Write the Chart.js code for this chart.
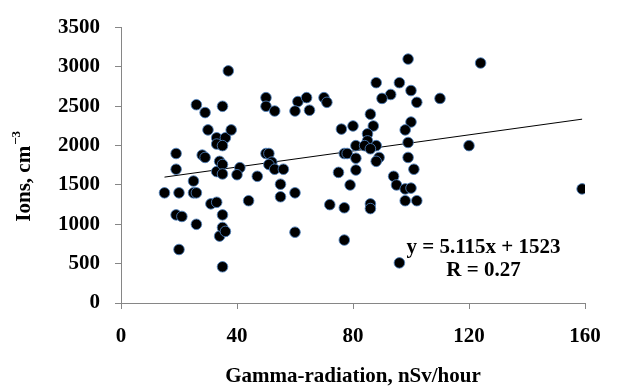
<!DOCTYPE html>
<html>
<head>
<meta charset="utf-8">
<script src="https://cdn.jsdelivr.net/npm/chart.js@4/dist/chart.umd.min.js"></script>
<style>
  html, body { margin: 0; padding: 0; background: #fff; }
  #wrap { width: 617px; height: 390px; }
</style>
</head>
<body>
<div id="wrap"><canvas id="myChart" width="617" height="390"></canvas></div>
<script>
'use strict';

// gamma radiation (nSv/hour) and ion concentration (cm-3)
const gamma = [15, 20, 25, 26, 19, 19, 19, 21, 20, 25, 26, 26, 29, 28, 29, 30, 31, 33, 33, 33,
               34, 33, 34, 35, 36, 35, 35, 35, 35, 35, 36, 35, 37, 38, 41, 40, 44, 47, 50, 50,
               53, 50, 51, 52, 51, 53, 56, 55, 55, 60, 60, 61, 64, 60, 65, 70, 71, 72, 76, 80,
               77, 78, 75, 79, 77, 77, 81, 81, 81, 99, 88, 96, 93, 100, 90, 102, 110, 86, 87, 100,
               98, 85, 85, 84, 88, 86, 99, 89, 88, 99, 101, 120, 94, 95, 98, 100, 98, 102, 86, 86,
               96, 124, 159];
const ions = [1400, 1400, 1400, 1400, 1900, 1700, 1120, 1100, 680, 1550, 1000, 2520, 2420, 1880, 1850, 2200, 1260, 1280, 2100, 2020,
              1800, 1670, 850, 2500, 2100, 2000, 1760, 1640, 1120, 960, 910, 460, 2950, 2200, 1720, 1630, 1300, 1610, 2610, 2500,
              2440, 1900, 1900, 1790, 1760, 1700, 1700, 1510, 1350, 1400, 900, 2560, 2610, 2440, 2450, 2610, 2550, 1250, 2210, 2250,
              1900, 1900, 1660, 1500, 1210, 800, 2000, 1840, 1690, 3100, 2800, 2800, 2650, 2700, 2600, 2550, 2600, 2400, 2250, 2300,
              2200, 2150, 2060, 2000, 2000, 1960, 2040, 1850, 1800, 1850, 1700, 2000, 1610, 1500, 1450, 1460, 1300, 1300, 1260, 1200,
              510, 3050, 1450];

// linear trend as printed on the chart
const slope = 5.115;
const intercept = 1523;
const trendX = [15, 159];
const eqLines = ['y = 5.115x + 1523', 'R = 0.27'];
const eqAt = { x: 125, y: [700, 407] };

const xTicks = [0, 40, 80, 120, 160];
const yTicks = [0, 500, 1000, 1500, 2000, 2500, 3000, 3500];
const yTitle = ['Ions, cm', '\u22123'];

const serif = "'Liberation Serif', 'Times New Roman', serif";
const axisGrey = '#868686';

const points = gamma.map(function (g, i) { return { x: g, y: ions[i] }; });
const trend = trendX.map(function (x) { return { x: x, y: slope * x + intercept }; });

// equation text and the rotated y title (with its superscript)
const textLayer = {
  id: 'textLayer',
  afterDatasetsDraw: function (chart) {
    const ctx = chart.ctx;
    const xs = chart.scales.x, ys = chart.scales.y;
    const area = chart.chartArea;
    ctx.save();
    ctx.font = 'bold 21px ' + serif;
    ctx.fillStyle = '#000';
    ctx.textAlign = 'center';
    ctx.textBaseline = 'middle';
    for (let i = 0; i < eqLines.length; i++) {
      ctx.fillText(eqLines[i], xs.getPixelForValue(eqAt.x), ys.getPixelForValue(eqAt.y[i]));
    }
    ctx.restore();

    ctx.save();
    ctx.fillStyle = '#000';
    ctx.translate(25, (area.top + area.bottom) / 2 + 11);
    ctx.rotate(-Math.PI / 2);
    ctx.textBaseline = 'middle';
    ctx.textAlign = 'left';
    ctx.font = 'bold 21px ' + serif;
    const w1 = ctx.measureText(yTitle[0]).width;
    ctx.font = 'bold 13px ' + serif;
    const w2 = ctx.measureText(yTitle[1]).width;
    const x0 = -(w1 + w2 + 1) / 2;
    ctx.font = 'bold 21px ' + serif;
    ctx.fillText(yTitle[0], x0, 0);
    ctx.font = 'bold 13px ' + serif;
    ctx.fillText(yTitle[1], x0 + w1 + 1, -8);
    ctx.restore();
  }
};

const ctx = document.getElementById('myChart');
const myChart = new Chart(ctx, {
  type: 'scatter',
  data: {
    datasets: [{
      data: points,
      backgroundColor: '#000',
      borderColor: 'rgba(79,129,189,0.85)',
      borderWidth: 1,
      pointRadius: 5.3,
      order: 1
    }, {
      type: 'line',
      data: trend,
      borderColor: '#000',
      borderWidth: 1,
      pointRadius: 0,
      fill: false,
      order: 2
    }]
  },
  options: {
    responsive: false,
    animation: false,
    layout: { padding: { top: 17, right: 32, left: 0, bottom: 0 } },
    plugins: { legend: { display: false }, tooltip: { enabled: false } },
    scales: {
      x: {
        type: 'linear',
        min: 0, max: 160,
        afterBuildTicks: function (s) { s.ticks = xTicks.map(function (v) { return { value: v }; }); },
        afterFit: function (s) { s.height = 87; },
        grid: { drawOnChartArea: false, drawTicks: true, tickLength: 6, color: axisGrey },
        border: { color: axisGrey, width: 1 },
        ticks: {
          color: '#000', padding: 15,
          font: { family: serif, size: 21, weight: 'bold' },
          callback: function (v) { return String(v); }
        },
        title: {
          display: true,
          text: 'Gamma-radiation, nSv/hour',
          color: '#000',
          padding: { top: 0, bottom: 1 },
          font: { family: serif, size: 21, weight: 'bold' }
        }
      },
      y: {
        min: 0, max: 3500,
        afterBuildTicks: function (s) { s.ticks = yTicks.map(function (v) { return { value: v }; }); },
        afterFit: function (s) { s.width = 121; },
        grid: { drawOnChartArea: false, drawTicks: true, tickLength: 6, color: axisGrey },
        border: { color: axisGrey, width: 1 },
        ticks: {
          color: '#000', padding: 15,
          font: { family: serif, size: 21, weight: 'bold' },
          callback: function (v) { return String(v); }
        }
      }
    }
  },
  plugins: [textLayer]
});
</script>
</body>
</html>
